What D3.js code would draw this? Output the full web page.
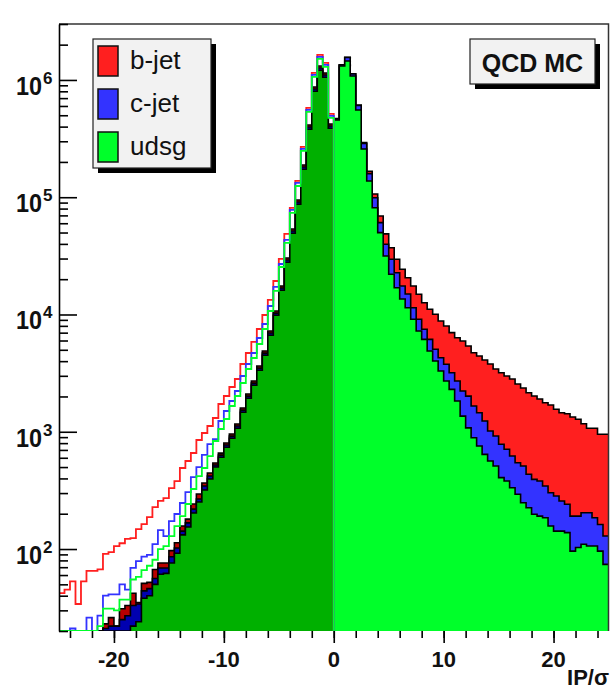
<!DOCTYPE html>
<html>
<head>
<meta charset="utf-8">
<script src="https://cdn.jsdelivr.net/npm/d3@7"></script>
<style>
  body { margin: 0; background: #fff; }
  text { font-family: "Liberation Sans", Arial, Helvetica, sans-serif; fill: #111; }
</style>
</head>
<body>
<svg width="613" height="689"></svg>
<script>
// histogram binning (IP/sigma), 0.5 wide bins
const binWidth = 0.5;
const negStart = -25;
const posStart = 0;

// negative side, filled stack (bins -25 .. 0)
const udsgNeg = [0,0,0,0,0,0,0,0,0,0, 0,0,0,22,24,38,40,50,61,62,
  76,92,132,154,203,252,319,395,500,606, 738,880,1072,1466,1931,2493,3346,4492,6655,9853,
  16110,27910,49330,87170,173300,380200,802000,1211600,1055700,387700];
const cNeg = [0,0,0,0,0,0,0,0,21,22, 22,25,27,11,10,6,6,6,8,7,
  10,10,10,13,16,15,26,24,20,26, 32,38,47,64,84,108,145,195,289,428,
  700,1214,2145,3790,7536,16530,34870,52680,45900,16860];
const bNeg = [0,0,0,0,0,0,0,0,2,4, 0,6,6,9,1,7,6,11,7,7,
  11,11,15,13,23,28,21,26,21,26, 32,38,47,64,84,108,145,195,289,428,
  700,1214,2145,3790,7536,16530,34870,52680,45900,16860];

// positive side, filled stack (bins 0 .. 25)
const udsgPos = [456000,1316000,1452000,1082000,555000,258000,137600,81400,49900,31550,
  22030,16930,13560,11430,9100,7230,6140,4880,4010,3300, 2710,2300,1830,1360,1080,890,756,642,563,510,
  406,380,333,293,248,225,198,191,185,157, 142,142,138,96,103,110,106,106,96,74];
const cPos = [9000,27000,104000,43000,51000,29000,21200,17700,10800,8150,
  7540,5790,3940,3530,2330,1870,1340,1260,1040,980, 1050,890,880,866,935,768,698,593,452,410,
  376,329,288,251,262,209,195,189,160,145, 141,115,103,95,88,94,98,79,66,55];
const bPos = [3000,5000,4000,4000,4000,5000,7500,7500,8500,9000,
  7560,6850,6790,5640,6070,5770,5130,4930,4990,4520, 4220,3810,3630,3717,3370,3064,2972,2858,2768,2509,
  2407,2280,2197,2011,1851,1719,1625,1522,1424,1389, 1271,1197,1185,1145,1086,967,866,885,789,822];

// negative side outlines
const bLine = [42,45,53,34,53,65,65,67,91,94, 106,112,122,124,148,163,187,228,257,272,
  331,380,491,563,659,851,976,1120,1310,1725, 2018,2408,2818,3784,4695,5830,7522,9904,13300,19310,
  29750,48600,80980,137600,268300,577100,1147500,1634000,1397000,513000];
const cLine = [0,0,21,0,0,26,0,27,40,41, 41,50,45,69,79,86,89,110,145,129,
  173,199,247,306,411,500,634,786,867,1235, 1503,1830,2227,2989,3784,4695,6304,8299,11820,17170,
  26960,43210,77860,132300,258000,555000,1103000,1571000,1343000,493300];
const udsgLine = [0,0,0,0,0,0,0,22,31,31, 30,37,37,55,58,66,72,81,100,106,
  129,157,191,242,325,419,491,621,834,1056, 1285,1658,2018,2605,3429,4256,5603,7522,10710,15870,
  25420,40730,73410,124700,248100,533600,1061000,1511000,1291000,474500];

const legendNames = ['b-jet', 'c-jet', 'udsg'];
const xMajor = [-20, -10, 0, 10, 20];
const yMajor = [1e2, 1e3, 1e4, 1e5, 1e6];

const bright = { b: '#ff1f1f', c: '#3333ff', udsg: '#00ff2a' };
const dark = { b: '#b80000', c: '#0000b0', udsg: '#00b000' };

/**
 * Scales.
 */
const yLo = 20, yHi = 3e6;
const x = d3.scaleLinear().domain([-25, 25]).range([59, 608.5]);
const y = d3.scaleLog().domain([yLo, yHi]).range([631, 24]);
const yv = v => y(Math.max(v, yLo));

const svg = d3.select('svg');
svg.append('clipPath').attr('id', 'plotClip')
  .append('rect').attr('x', 59).attr('y', 24).attr('width', 549.5).attr('height', 607);

const plot = svg.append('g').attr('clip-path', 'url(#plotClip)');

function steps(start, vals) {
  const pts = vals.map((v, i) => [start + i * binWidth, v]);
  pts.push([start + vals.length * binWidth, vals[vals.length - 1]]);
  return pts;
}

const area = d3.area().curve(d3.curveStepAfter)
  .x(d => x(d[0])).y0(y(yLo)).y1(d => yv(d[1]));
const line = d3.line().curve(d3.curveStepAfter)
  .x(d => x(d[0])).y(d => yv(d[1]));

/**
 * Stacks.
 */
function drawStack(start, u, c, b, colors) {
  const rows = u.map((v, i) => ({ udsg: v, c: c[i], b: b[i] }));
  const stack = d3.stack().keys(['udsg', 'c', 'b'])(rows);
  // biggest first, like THStack
  stack.slice().reverse().forEach(s => {
    const tops = s.map(d => d[1]);
    const pts = steps(start, tops);
    plot.append('path').attr('d', area(pts)).attr('fill', colors[s.key]);
    plot.append('path').attr('d', line(pts))
      .attr('fill', 'none').attr('stroke', '#000').attr('stroke-width', 1.6);
  });
}

drawStack(negStart, udsgNeg, cNeg, bNeg, dark);
drawStack(posStart, udsgPos, cPos, bPos, bright);

/**
 * Outlines on the negative side.
 */
[[bLine, bright.b], [cLine, bright.c], [udsgLine, bright.udsg]].forEach(([vals, col]) => {
  const pts = [[negStart, 0]].concat(steps(negStart, vals), [[0, 0]]);
  plot.append('path').attr('d', line(pts))
    .attr('fill', 'none').attr('stroke', col).attr('stroke-width', 1.8);
});

/**
 * Frame.
 */
svg.append('path')
  .attr('d', `M${x(-25)},24H${x(25)}V631`)
  .attr('fill', 'none').attr('stroke', '#333').attr('stroke-width', 1.5);

/**
 * Axes.
 */
const yMinor = [];
for (let e = 1; e <= 6; e++) {
  for (let m = 2; m <= 9; m++) {
    const v = m * Math.pow(10, e);
    if (v >= yLo && v <= yHi) yMinor.push(v);
  }
}

const yAxisMinor = svg.append('g').attr('transform', 'translate(59,0)')
  .call(d3.axisRight(y).tickValues(yMinor).tickSize(9).tickFormat('').tickSizeOuter(0));
const yAxisMajor = svg.append('g').attr('transform', 'translate(59,0)')
  .call(d3.axisRight(y).tickValues(yMajor).tickSize(18).tickFormat('').tickSizeOuter(0));
yAxisMajor.select('.domain').remove();

const xAxisMinor = svg.append('g').attr('transform', 'translate(0,631)')
  .call(d3.axisBottom(x).tickValues(d3.range(-24, 25, 2)).tickSize(7).tickFormat(''));
const xAxisMajor = svg.append('g').attr('transform', 'translate(0,631)')
  .call(d3.axisBottom(x).tickValues(xMajor).tickSize(12).tickFormat(''));
xAxisMinor.select('.domain').remove();
xAxisMajor.select('.domain').remove();

svg.selectAll('.tick line, .domain').attr('stroke', '#000').attr('stroke-width', 1.6);

// y labels 10^n
yMajor.forEach(v => {
  const ty = y(v);
  svg.append('text')
    .attr('transform', `translate(42,${ty + 15}) scale(0.9,1)`)
    .attr('text-anchor', 'end')
    .attr('font-size', 26).attr('font-weight', 'bold')
    .text('10');
  svg.append('text')
    .attr('x', 43).attr('y', ty + 4)
    .attr('font-size', 17).attr('font-weight', 'bold')
    .text(String(Math.round(Math.log10(v))));
});

// x labels
xMajor.forEach(v => {
  svg.append('text')
    .attr('x', x(v)).attr('y', 667)
    .attr('text-anchor', 'middle')
    .attr('font-size', 22).attr('font-weight', 'bold')
    .text(String(v));
});

svg.append('text')
  .attr('x', 609).attr('y', 685)
  .attr('text-anchor', 'end')
  .attr('font-size', 22).attr('font-weight', 'bold')
  .text('IP/σ');

/**
 * Legend.
 */
const legend = svg.append('g');
legend.append('rect').attr('x', 98).attr('y', 44).attr('width', 118).attr('height', 129).attr('fill', '#000');
legend.append('rect').attr('x', 93).attr('y', 39).attr('width', 118).attr('height', 129)
  .attr('fill', '#f2f2f2').attr('stroke', '#222').attr('stroke-width', 1.2);

const legendKeys = ['b', 'c', 'udsg'];
legendNames.forEach((name, i) => {
  const cy = 61 + i * 43;
  legend.append('rect')
    .attr('x', 98).attr('y', cy - 15).attr('width', 20).attr('height', 30)
    .attr('fill', bright[legendKeys[i]]).attr('stroke', '#111').attr('stroke-width', 1.5);
  legend.append('text')
    .attr('x', 130).attr('y', cy + 7.5)
    .attr('font-size', 26)
    .text(name);
});

/**
 * Sample label.
 */
svg.append('rect').attr('x', 475).attr('y', 44).attr('width', 125).attr('height', 45).attr('fill', '#000');
svg.append('rect').attr('x', 470).attr('y', 39).attr('width', 125).attr('height', 45)
  .attr('fill', '#f2f2f2').attr('stroke', '#222').attr('stroke-width', 1.2);
svg.append('text')
  .attr('x', 532.5).attr('y', 72)
  .attr('text-anchor', 'middle')
  .attr('font-size', 25).attr('font-weight', 'bold')
  .text('QCD MC');
</script>
</body>
</html>
